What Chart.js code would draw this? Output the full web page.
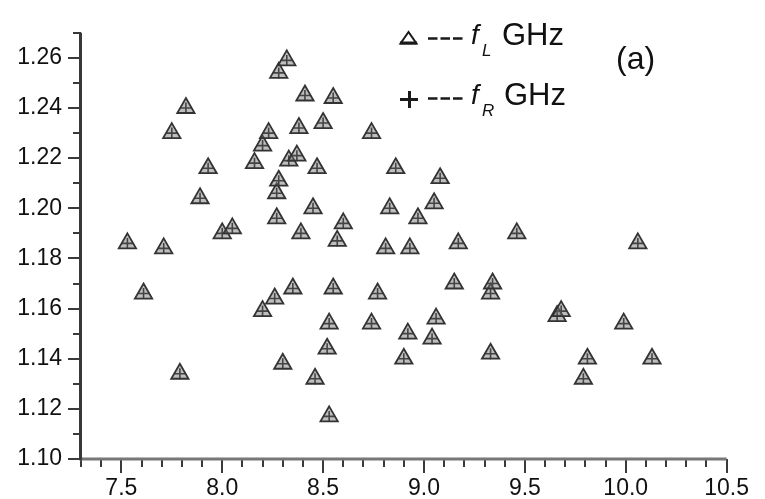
<!DOCTYPE html>
<html>
<head>
<meta charset="utf-8">
<script src="https://cdn.jsdelivr.net/npm/chart.js@4/dist/chart.umd.min.js"></script>
<style>
  html, body { margin: 0; padding: 0; background: #ffffff; }
  canvas { display: block; }
</style>
</head>
<body>
<canvas id="chart" width="765" height="499"></canvas>
<script>
// Measured points: x position and the two resonance frequencies (GHz)
const xValues = [
  7.53, 7.61, 7.71, 7.75, 7.79, 7.82, 7.89, 7.93, 8.00, 8.05,
  8.16, 8.20, 8.20, 8.23, 8.26, 8.27, 8.27, 8.28, 8.28, 8.30,
  8.32, 8.33, 8.35, 8.37, 8.38, 8.39, 8.41, 8.45, 8.46, 8.47,
  8.50, 8.52, 8.53, 8.53, 8.55, 8.55, 8.57, 8.60, 8.74, 8.74,
  8.77, 8.81, 8.83, 8.86, 8.90, 8.92, 8.93, 8.97, 9.04, 9.05,
  9.06, 9.08, 9.15, 9.17, 9.33, 9.33, 9.34, 9.46, 9.66, 9.68,
  9.79, 9.81, 9.99, 10.06, 10.13
];
const fL = [
  1.186, 1.166, 1.184, 1.230, 1.134, 1.240, 1.204, 1.216, 1.190, 1.192,
  1.218, 1.225, 1.159, 1.230, 1.164, 1.206, 1.196, 1.211, 1.254, 1.138,
  1.259, 1.219, 1.168, 1.221, 1.232, 1.190, 1.245, 1.200, 1.132, 1.216,
  1.234, 1.144, 1.154, 1.117, 1.168, 1.244, 1.187, 1.194, 1.230, 1.154,
  1.166, 1.184, 1.200, 1.216, 1.140, 1.150, 1.184, 1.196, 1.148, 1.202,
  1.156, 1.212, 1.170, 1.186, 1.166, 1.142, 1.170, 1.190, 1.157, 1.159,
  1.132, 1.140, 1.154, 1.186, 1.140
];
const fR = [
  1.186, 1.166, 1.184, 1.230, 1.134, 1.240, 1.204, 1.216, 1.190, 1.192,
  1.218, 1.225, 1.159, 1.230, 1.164, 1.206, 1.196, 1.211, 1.254, 1.138,
  1.259, 1.219, 1.168, 1.221, 1.232, 1.190, 1.245, 1.200, 1.132, 1.216,
  1.234, 1.144, 1.154, 1.117, 1.168, 1.244, 1.187, 1.194, 1.230, 1.154,
  1.166, 1.184, 1.200, 1.216, 1.140, 1.150, 1.184, 1.196, 1.148, 1.202,
  1.156, 1.212, 1.170, 1.186, 1.166, 1.142, 1.170, 1.190, 1.157, 1.159,
  1.132, 1.140, 1.154, 1.186, 1.140
];

const xTicks = [7.5, 8.0, 8.5, 9.0, 9.5, 10.0, 10.5];
const yTicks = [1.10, 1.12, 1.14, 1.16, 1.18, 1.20, 1.22, 1.24, 1.26];
const legendSeries = ['L', 'R'];
const legendUnit = 'GHz';
const panelLabel = '(a)';

const FONT = '"Liberation Sans", Arial, sans-serif';

const toPoints = (ys) => xValues.map((x, i) => ({ x: x, y: ys[i] }));

// Axis lines, major/minor tick marks, legend and panel label
const decorations = {
  id: 'decorations',
  afterDraw(chart) {
    const ctx = chart.ctx;
    const x = chart.scales.x, y = chart.scales.y;
    const a = chart.chartArea;
    ctx.save();
    ctx.lineCap = 'butt';

    // x ticks every 0.1, longer at 0.5
    ctx.strokeStyle = '#3a3a3a';
    ctx.lineWidth = 2;
    for (let i = 0; ; i++) {
      const v = Math.round((x.min + i * 0.1) * 10) / 10;
      if (v > x.max + 1e-9) break;
      const px = Math.round(x.getPixelForValue(v));
      const major = Math.abs(v * 2 - Math.round(v * 2)) < 1e-6;
      ctx.beginPath();
      ctx.moveTo(px, a.bottom);
      ctx.lineTo(px, a.bottom + (major ? 14 : 8));
      ctx.stroke();
    }
    // y ticks every 0.01, longer at 0.02
    for (let i = 0; ; i++) {
      const v = Math.round((y.min + i * 0.01) * 100) / 100;
      if (v > y.max + 1e-9) break;
      const py = Math.round(y.getPixelForValue(v));
      const major = Math.round(v * 100) % 2 === 0;
      ctx.beginPath();
      ctx.moveTo(a.left, py);
      ctx.lineTo(a.left - (major ? 13 : 8), py);
      ctx.stroke();
    }

    // axis lines
    ctx.strokeStyle = '#777777';
    ctx.lineWidth = 3;
    ctx.beginPath();
    ctx.moveTo(a.left - 2, a.bottom);
    ctx.lineTo(a.right, a.bottom);
    ctx.stroke();
    ctx.strokeStyle = '#383838';
    ctx.lineWidth = 3;
    ctx.beginPath();
    ctx.moveTo(a.left - 0.5, a.top);
    ctx.lineTo(a.left - 0.5, a.bottom + 1);
    ctx.stroke();

    // legend
    ctx.fillStyle = '#111111';
    ctx.strokeStyle = '#1a1a1a';
    ctx.textBaseline = 'alphabetic';
    ctx.textAlign = 'left';

    // row 1: open triangle symbol with heavy base
    ctx.lineWidth = 2;
    ctx.lineJoin = 'miter';
    ctx.beginPath();
    ctx.moveTo(408.5, 32);
    ctx.lineTo(400.5, 43.5);
    ctx.lineTo(416.5, 43.5);
    ctx.closePath();
    ctx.stroke();
    ctx.lineWidth = 3;
    ctx.beginPath();
    ctx.moveTo(400, 43);
    ctx.lineTo(417, 43);
    ctx.stroke();
    // row 2: plus symbol
    ctx.lineWidth = 3;
    ctx.beginPath();
    ctx.moveTo(400, 99.5); ctx.lineTo(418, 99.5);
    ctx.moveTo(409.5, 91); ctx.lineTo(409.5, 108);
    ctx.stroke();

    const rows = [38.5, 98.5];
    const bases = [44, 104];
    legendSeries.forEach((sub, i) => {
      ctx.lineWidth = 2.5;
      ctx.setLineDash([9.5, 3]);
      ctx.beginPath();
      ctx.moveTo(428, rows[i]);
      ctx.lineTo(465, rows[i]);
      ctx.stroke();
      ctx.setLineDash([]);
      ctx.font = 'italic 28px ' + FONT;
      ctx.fillText('f', 471, bases[i]);
      ctx.font = 'italic 17px ' + FONT;
      ctx.fillText(sub, 482, bases[i] + 12);
      ctx.font = '31px ' + FONT;
      ctx.fillText(legendUnit, 502 + i * 2, bases[i] + 1);
    });

    ctx.font = '32px ' + FONT;
    ctx.fillText(panelLabel, 616, 69);
    ctx.restore();
  }
};

new Chart(document.getElementById('chart'), {
  type: 'scatter',
  data: {
    datasets: [
      {
        label: 'fL',
        data: toPoints(fL),
        pointStyle: 'triangle',
        pointRadius: 10,
        pointBorderWidth: 1.8,
        borderColor: '#333333',
        backgroundColor: 'rgba(110,110,110,0.45)'
      },
      {
        label: 'fR',
        data: toPoints(fR),
        pointStyle: 'cross',
        pointRadius: 5.5,
        pointBorderWidth: 1.6,
        borderColor: '#222222',
        backgroundColor: '#222222'
      }
    ]
  },
  options: {
    responsive: false,
    animation: false,
    clip: false,
    layout: { padding: { top: 7, right: 23, left: 0, bottom: 0 } },
    plugins: {
      legend: { display: false },
      tooltip: { enabled: false }
    },
    scales: {
      x: {
        type: 'linear',
        min: 7.3,
        max: 10.5,
        afterBuildTicks: (s) => { s.ticks = xTicks.map(v => ({ value: v })); },
        afterFit: (s) => { s.height = 40; },
        grid: { display: false, drawTicks: false },
        border: { display: false },
        ticks: {
          padding: 16,
          color: '#111111',
          font: { family: FONT, size: 23 },
          maxRotation: 0,
          autoSkip: false,
          callback: (v) => Number(v).toFixed(1)
        }
      },
      y: {
        type: 'linear',
        min: 1.10,
        max: 1.27,
        afterBuildTicks: (s) => { s.ticks = yTicks.map(v => ({ value: v })); },
        afterFit: (s) => { s.width = 81; },
        grid: { display: false, drawTicks: false },
        border: { display: false },
        ticks: {
          padding: 19,
          color: '#111111',
          font: { family: FONT, size: 23 },
          autoSkip: false,
          callback: (v) => Number(v).toFixed(2)
        }
      }
    }
  },
  plugins: [decorations]
});
</script>
</body>
</html>
